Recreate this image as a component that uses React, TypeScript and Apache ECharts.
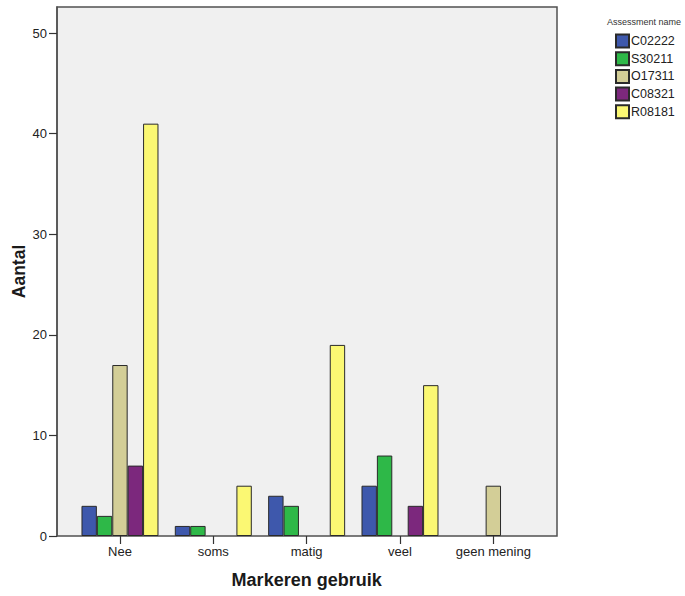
import React, { useEffect, useRef } from "react";
import * as echarts from "echarts";

const categories = ["Nee", "soms", "matig", "veel", "geen mening"];
const seriesNames = ["C02222", "S30211", "O17311", "C08321", "R08181"];
const C02222 = [3, 1, 4, 5, 0];
const S30211 = [2, 1, 3, 8, 0];
const O17311 = [17, 0, 0, 0, 5];
const C08321 = [7, 0, 0, 3, 0];
const R08181 = [41, 5, 19, 15, 0];
const seriesValues = [C02222, S30211, O17311, C08321, R08181];
const colors = ["#3E58AC", "#2EB848", "#D3CE97", "#7C287D", "#FBF873"];
const yTicks = [0, 10, 20, 30, 40, 50];

const FONT = "'Liberation Sans', Arial, sans-serif";

export default function App() {
  const ref = useRef<HTMLDivElement>(null);
  useEffect(() => {
    if (!ref.current) return;
    const chart = echarts.init(ref.current, null, { renderer: "svg" });
    const frameL = 57, frameR = 557, top = 7, bottom = 536;
    const gridL = 73.3, gridW = 466.7;
    chart.setOption({
      animation: false,
      textStyle: { fontFamily: FONT },
      title: {
        text: "Assessment name",
        left: 607,
        top: 17,
        padding: 0,
        textStyle: { fontSize: 9, fontWeight: "normal", color: "#333", fontFamily: FONT },
      },
      legend: {
        orient: "vertical",
        left: 615,
        top: 33.5,
        padding: 0,
        icon: "rect",
        itemWidth: 13,
        itemHeight: 13,
        itemGap: 2.7,
        data: seriesNames,
        textStyle: { fontSize: 12.5, lineHeight: 13, color: "#222", fontFamily: FONT, padding: [0, 0, 0, -3] },
      },
      graphic: [
        {
          type: "rect",
          z: -10,
          silent: true,
          shape: { x: frameL, y: top, width: frameR - frameL, height: bottom - top },
          style: { fill: "#F0F0F0", stroke: "#505050", lineWidth: 1.5 },
        },
      ],
      grid: {
        left: gridL,
        width: gridW,
        top: top,
        height: bottom - top,
        containLabel: false,
        outerBoundsMode: "none",
      },
      xAxis: {
        type: "category",
        data: categories,
        axisLine: { show: false },
        axisTick: { show: true, alignWithLabel: true, length: 8, lineStyle: { color: "#333", width: 1.2 } },
        axisLabel: { interval: 0, margin: 9, fontSize: 13, color: "#222", fontFamily: FONT },
        name: "Markeren gebruik",
        nameLocation: "middle",
        nameGap: 35,
        nameMoveOverlap: false,
        nameTextStyle: { fontSize: 18, fontWeight: "bold", color: "#1a1a1a", fontFamily: FONT },
      },
      yAxis: {
        type: "value",
        min: 0,
        max: 52.6,
        interval: 10,
        offset: gridL - frameL,
        axisLine: { show: true, lineStyle: { color: "#505050", width: 1.5 } },
        axisTick: { show: true, length: 8, customValues: yTicks, lineStyle: { color: "#333", width: 1.2 } },
        axisLabel: { margin: 10, fontSize: 13, color: "#222", fontFamily: FONT, customValues: yTicks },
        splitLine: { show: false },
        name: "Aantal",
        nameLocation: "middle",
        nameGap: 29,
        nameMoveOverlap: false,
        nameTextStyle: { fontSize: 17.5, fontWeight: "bold", color: "#1a1a1a", fontFamily: FONT },
      },
      series: seriesNames.map((name, i) => ({
        name,
        type: "bar",
        barWidth: 15.4,
        barGap: "0%",
        data: seriesValues[i].map((v) => (v === 0 ? null : v)),
        itemStyle: { color: colors[i], borderColor: "#2a2a2a", borderWidth: 1 },
      })),
    });
    return () => chart.dispose();
  }, []);
  return (
    <div
      ref={ref}
      style={{ position: "fixed", left: 0, top: 0, width: 685, height: 596, background: "#fff" }}
    />
  );
}
